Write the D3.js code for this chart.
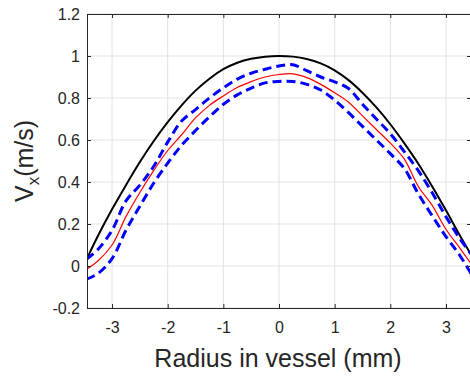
<!DOCTYPE html>
<html>
<head>
<meta charset="utf-8">
<script src="https://cdn.jsdelivr.net/npm/d3@7"></script>
<style>
  body { margin: 0; background: #fff; }
  svg { display: block; }
  text { font-family: "Liberation Sans", Arial, Helvetica, sans-serif; fill: #262626; }
</style>
</head>
<body>
<div id="chart"></div>
<script>
var radius = [-3.46, -3.25, -3.0, -2.75, -2.5, -2.25, -2.0, -1.75, -1.5, -1.25, -1.0, -0.75, -0.5, -0.25, 0,
              0.25, 0.5, 0.75, 1.0, 1.25, 1.5, 1.75, 2.0, 2.25, 2.5, 2.75, 3.0, 3.25, 3.46];

// reference profile (black)
var vRef = [0.03, 0.145, 0.27, 0.385, 0.495, 0.595, 0.685, 0.765, 0.835, 0.892, 0.937, 0.968, 0.987, 0.997, 1.0,
            0.997, 0.986, 0.965, 0.932, 0.885, 0.825, 0.755, 0.675, 0.585, 0.488, 0.38, 0.265, 0.145, 0.05];

// mean measured profile (red)
var vMean = [-0.016, 0.025, 0.10, 0.235, 0.35, 0.455, 0.55, 0.625, 0.705, 0.765, 0.81, 0.85, 0.878, 0.90, 0.912,
             0.915, 0.897, 0.865, 0.825, 0.78, 0.715, 0.65, 0.585, 0.51, 0.38, 0.29, 0.175, 0.085, 0.008];

// upper / lower bounds (blue dashed)
var vUpper = [0.032, 0.08, 0.17, 0.31, 0.385, 0.475, 0.59, 0.69, 0.745, 0.80, 0.848, 0.89, 0.918, 0.937, 0.952,
              0.958, 0.93, 0.90, 0.877, 0.845, 0.77, 0.70, 0.63, 0.545, 0.455, 0.35, 0.235, 0.13, 0.055];
var vLower = [-0.063, -0.035, 0.035, 0.17, 0.285, 0.395, 0.49, 0.575, 0.645, 0.71, 0.77, 0.815, 0.847, 0.872, 0.879,
              0.879, 0.865, 0.838, 0.79, 0.73, 0.665, 0.60, 0.535, 0.465, 0.345, 0.24, 0.14, 0.05, -0.04];

var xTicks = [-3, -2, -1, 0, 1, 2, 3];
var yTicks = [-0.2, 0, 0.2, 0.4, 0.6, 0.8, 1, 1.2];

var W = 470, H = 376;
var pLeft = 87, pRight = 471, pTop = 14, pBottom = 308;

var svg = d3.select("#chart").append("svg")
    .attr("width", W)
    .attr("height", H);

var x = d3.scaleLinear().domain([-3.45, 3.45]).range([pLeft, pRight]);
var y = d3.scaleLinear().domain([-0.2, 1.2]).range([pBottom, pTop]);

svg.append("defs").append("clipPath").attr("id", "plotclip")
  .append("rect")
    .attr("x", pLeft).attr("y", pTop)
    .attr("width", pRight - pLeft).attr("height", pBottom - pTop);

// grid
var grid = svg.append("g").attr("class", "grid");
grid.selectAll("line.gx").data(xTicks).enter().append("line")
    .attr("x1", function(d) { return x(d); }).attr("x2", function(d) { return x(d); })
    .attr("y1", pTop).attr("y2", pBottom)
    .attr("stroke", "#e3e3e3").attr("stroke-width", 1);
grid.selectAll("line.gy").data(yTicks).enter().append("line")
    .attr("y1", function(d) { return y(d); }).attr("y2", function(d) { return y(d); })
    .attr("x1", pLeft).attr("x2", pRight)
    .attr("stroke", "#e3e3e3").attr("stroke-width", 1);

// curves
var line = d3.line()
    .x(function(d) { return x(d[0]); })
    .y(function(d) { return y(d[1]); })
    .curve(d3.curveCatmullRom.alpha(0.5));

function pairs(vals) {
    return radius.map(function(r, i) { return [r, vals[i]]; });
}

var curves = svg.append("g").attr("clip-path", "url(#plotclip)");

curves.append("path")
    .datum(pairs(vRef))
    .attr("d", line)
    .attr("fill", "none")
    .attr("stroke", "#000")
    .attr("stroke-width", 2);

curves.append("path")
    .datum(pairs(vUpper))
    .attr("d", line)
    .attr("fill", "none")
    .attr("stroke", "#0000ff")
    .attr("stroke-width", 3)
    .attr("stroke-dasharray", "9,5");

curves.append("path")
    .datum(pairs(vLower))
    .attr("d", line)
    .attr("fill", "none")
    .attr("stroke", "#0000ff")
    .attr("stroke-width", 3)
    .attr("stroke-dasharray", "9,5");

curves.append("path")
    .datum(pairs(vMean))
    .attr("d", line)
    .attr("fill", "none")
    .attr("stroke", "#ff0000")
    .attr("stroke-width", 1.2);

// axes (ticks pointing inward, box on)
var fmt = function(d) { return String(+d.toFixed(1)); };

var xAxis = d3.axisBottom(x).tickValues(xTicks).tickSize(-4).tickPadding(14).tickFormat(fmt);
var yAxis = d3.axisLeft(y).tickValues(yTicks).tickSize(-4).tickPadding(7).tickFormat(fmt);

svg.append("g")
    .attr("transform", "translate(0," + pBottom + ")")
    .call(xAxis);
svg.append("g")
    .attr("transform", "translate(" + pLeft + ",0)")
    .call(yAxis);

svg.append("g")
    .attr("transform", "translate(0," + pTop + ")")
    .call(d3.axisTop(x).tickValues(xTicks).tickSize(-4).tickFormat(""));
svg.append("g")
    .attr("transform", "translate(" + pRight + ",0)")
    .call(d3.axisRight(y).tickValues(yTicks).tickSize(-4).tickFormat(""));

svg.selectAll(".domain, .tick line").attr("stroke", "#262626");
svg.selectAll(".tick text")
    .attr("fill", "#262626")
    .style("font-size", "16px")
    .style("font-family", "'Liberation Sans', Arial, sans-serif");

// axis titles
svg.append("text")
    .attr("x", (pLeft + pRight) / 2 - 1)
    .attr("y", 367)
    .attr("text-anchor", "middle")
    .style("font-size", "25px")
    .text("Radius in vessel (mm)");

var yl = svg.append("text")
    .attr("transform", "translate(33," + ((pTop + pBottom) / 2) + ") rotate(-90)")
    .attr("text-anchor", "middle")
    .style("font-size", "25px");
yl.append("tspan").text("V");
yl.append("tspan").attr("dy", 6).style("font-size", "17px").text("x");
yl.append("tspan").attr("dy", -6).text("(m/s)");
</script>
</body>
</html>
